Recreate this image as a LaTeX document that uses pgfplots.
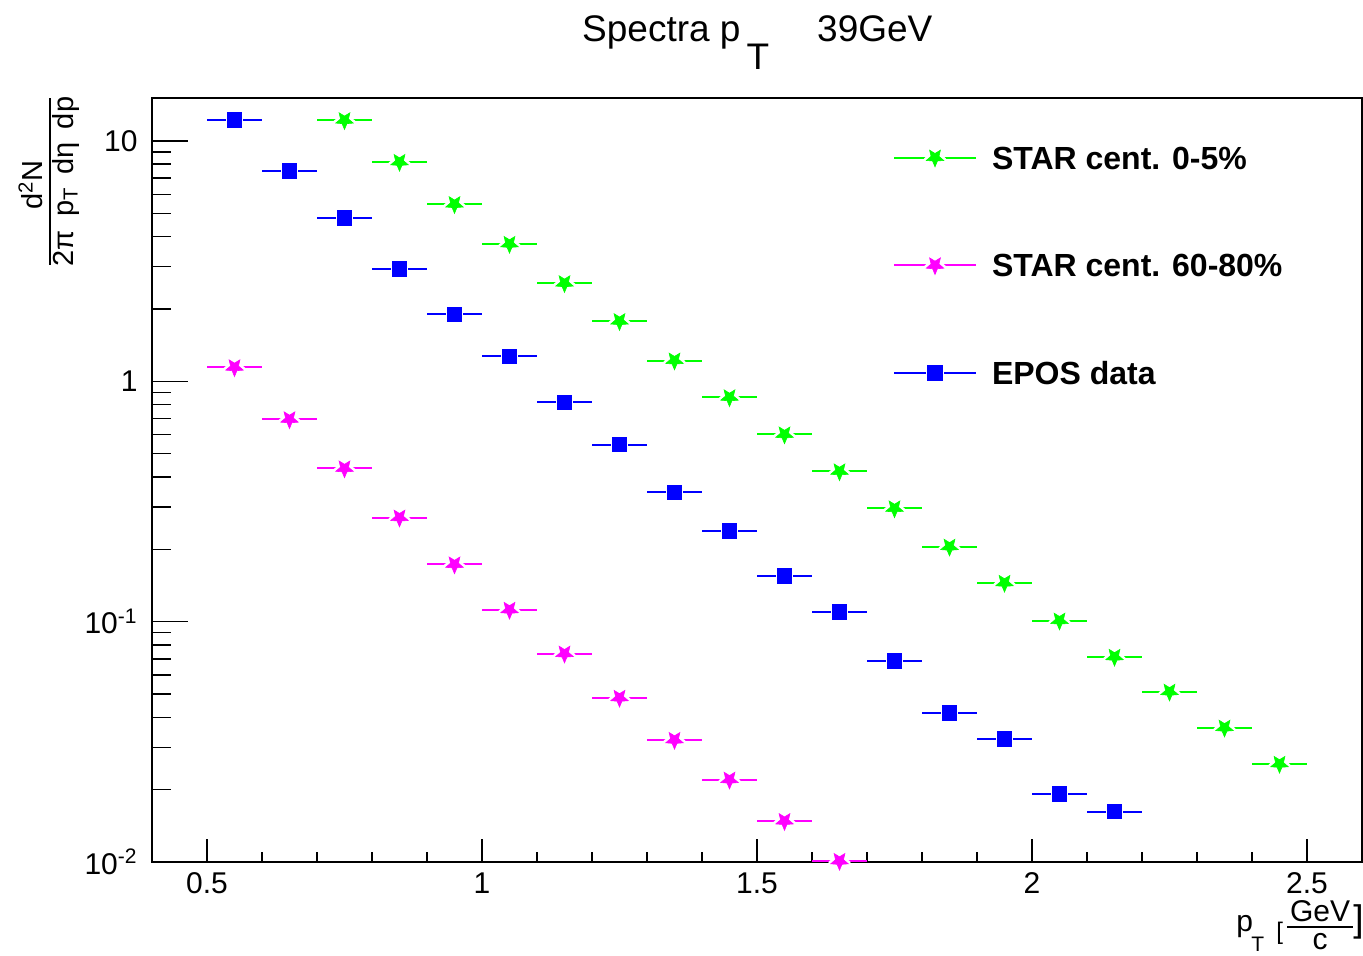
\documentclass[border=0pt]{standalone}
\usepackage{pgfplots}
\pgfplotsset{compat=1.18}
\usepackage{fontspec}
\setmainfont{Liberation Sans}
\definecolor{rgreen}{rgb}{0,1,0}
\definecolor{rmag}{rgb}{1,0,1}
\definecolor{rblue}{rgb}{0,0,1}

\newcommand{\starpath}{%
  \pgfpathmoveto{\pgfpointpolar{-90}{\pgfplotmarksize}}%
  \pgfpathlineto{\pgfpointpolar{-54}{0.45\pgfplotmarksize}}%
  \pgfpathlineto{\pgfpointpolar{-18}{\pgfplotmarksize}}%
  \pgfpathlineto{\pgfpointpolar{18}{0.45\pgfplotmarksize}}%
  \pgfpathlineto{\pgfpointpolar{54}{\pgfplotmarksize}}%
  \pgfpathlineto{\pgfpointpolar{90}{0.45\pgfplotmarksize}}%
  \pgfpathlineto{\pgfpointpolar{126}{\pgfplotmarksize}}%
  \pgfpathlineto{\pgfpointpolar{162}{0.45\pgfplotmarksize}}%
  \pgfpathlineto{\pgfpointpolar{198}{\pgfplotmarksize}}%
  \pgfpathlineto{\pgfpointpolar{234}{0.45\pgfplotmarksize}}%
  \pgfpathclose}
\pgfdeclareplotmark{istarG}{%
  \pgfsetlinewidth{3pt}\pgfsetroundjoin
  \pgfsetstrokecolor{white}\pgfsetfillcolor{white}%
  \starpath\pgfusepath{stroke}%
  \pgfsetlinewidth{0.3pt}\pgfsetmiterjoin
  \pgfsetstrokecolor{rgreen}\pgfsetfillcolor{rgreen}%
  \starpath\pgfusepath{fill,stroke}}
\pgfdeclareplotmark{istarM}{%
  \pgfsetlinewidth{3pt}\pgfsetroundjoin
  \pgfsetstrokecolor{white}\pgfsetfillcolor{white}%
  \starpath\pgfusepath{stroke}%
  \pgfsetlinewidth{0.3pt}\pgfsetmiterjoin
  \pgfsetstrokecolor{rmag}\pgfsetfillcolor{rmag}%
  \starpath\pgfusepath{fill,stroke}}
\pgfdeclareplotmark{sqB}{%
  \pgfsetlinewidth{1pt}%
  \pgfsetstrokecolor{white}%
  \pgfpathrectangle{\pgfpoint{-\pgfplotmarksize}{-\pgfplotmarksize}}{\pgfpoint{2\pgfplotmarksize}{2\pgfplotmarksize}}%
  \pgfusepath{stroke}%
  \pgfsetfillcolor{rblue}%
  \pgfpathrectangle{\pgfpoint{-\pgfplotmarksize}{-\pgfplotmarksize}}{\pgfpoint{2\pgfplotmarksize}{2\pgfplotmarksize}}%
  \pgfusepath{fill}}

\newcommand{\tickfont}{\fontsize{15}{18}\selectfont}
\newcommand{\legfont}{\fontsize{16}{19}\selectfont\bfseries}

\begin{document}
\begin{tikzpicture}
\useasboundingbox (-76pt,-47pt) rectangle (605.5pt,431pt);
\begin{axis}[
  at={(0,0)}, anchor=south west,
  scale only axis, width=605pt, height=382pt,
  xmin=0.4, xmax=2.6,
  ymode=log, ymin=0.01, ymax=15.1,
  axis line style={line width=0.8pt, black},
  tick align=inside, tick pos=left,
  tick style={black, line width=0.8pt},
  xtick style={/pgfplots/major tick length=11.5pt, /pgfplots/minor tick length=5pt},
  ytick style={/pgfplots/major tick length=18pt, /pgfplots/minor tick length=9.5pt},
  xtick={0.5,1,1.5,2,2.5},
  xticklabels={0.5,1,1.5,2,2.5},
  minor x tick num=4,
  ytick={0.01,0.1,1,10},
  yticklabels={10\textsuperscript{-2},10\textsuperscript{-1},1,10},
  xticklabel style={font=\tickfont, anchor=north, inner sep=0pt, yshift=-5pt},
  yticklabel style={font=\tickfont, anchor=east, inner sep=0pt, xshift=-7pt},
  legend cell align=left,
  legend style={draw=none, fill=none, inner sep=0pt, outer sep=0pt,
    at={(0.6124,0.937)}, anchor=north west,
    nodes={inner sep=0pt, text height=11.5pt, text depth=0pt, font=\legfont},
    row sep=42pt, column sep=7.5pt},
  legend image code/.code={%
    \draw[#1, mark=none, line width=1pt] (0pt,0pt) -- (41pt,0pt);
    \draw[#1] plot coordinates {(20.5pt,0pt)};
  },
]
% STAR 0-5%
\addplot[only marks, color=rgreen, mark=istarG, mark size=4.6pt,
  error bars/.cd, x dir=both, x fixed=0.05, error mark=none,
  error bar style={line width=1pt, rgreen}]
coordinates {
(0.75,12.2) (0.85,8.18) (0.95,5.46) (1.05,3.73) (1.15,2.56) (1.25,1.78)
(1.35,1.22) (1.45,0.858) (1.55,0.601) (1.65,0.422) (1.75,0.296) (1.85,0.205)
(1.95,0.145) (2.05,0.101) (2.15,0.0714) (2.25,0.0511) (2.35,0.0362) (2.45,0.0256)
};
\addlegendentry{STAR cent. 0-5\%}
% STAR 60-80%
\addplot[only marks, color=rmag, mark=istarM, mark size=4.6pt,
  error bars/.cd, x dir=both, x fixed=0.05, error mark=none,
  error bar style={line width=1pt, rmag}]
coordinates {
(0.55,1.144) (0.65,0.695) (0.75,0.434) (0.85,0.271) (0.95,0.173) (1.05,0.112)
(1.15,0.0736) (1.25,0.0482) (1.35,0.0322) (1.45,0.0220) (1.55,0.0148) (1.65,0.0101)
};
\addlegendentry{STAR cent. 60-80\%}
% EPOS
\addplot[only marks, color=rblue, mark=sqB, mark size=3.9pt,
  error bars/.cd, x dir=both, x fixed=0.05, error mark=none,
  error bar style={line width=1pt, rblue}]
coordinates {
(0.55,12.2) (0.65,7.5) (0.75,4.78) (0.85,2.93) (0.95,1.90) (1.05,1.27)
(1.15,0.818) (1.25,0.546) (1.35,0.345) (1.45,0.239) (1.55,0.155) (1.65,0.110)
(1.75,0.0688) (1.85,0.0418) (1.95,0.0325) (2.05,0.0192) (2.15,0.0162)
};
\addlegendentry{EPOS data}
\end{axis}
% title
\node[anchor=base west, inner sep=0pt, font=\fontsize{18.5}{22}\selectfont]
  at (214.9pt,410.2pt) {Spectra p\hspace{3pt}\raisebox{-14pt}{T}\hspace{24pt}39GeV};
% y label
\draw[line width=1pt] (-51pt,298.5pt) -- (-51pt,382pt);
\node[rotate=90, anchor=base, inner sep=0pt, font=\fontsize{14.5}{17}\selectfont]
  at (-54.5pt,338.5pt) {d\textsuperscript{2}N};
\node[rotate=90, anchor=north, inner sep=0pt, font=\fontsize{14.5}{17}\selectfont]
  at (-50pt,340.25pt) {2π\hspace{0.45em}p\textsubscript{T}\hspace{0.45em}dη\hspace{0.45em}dp};
% x label
\begin{scope}[yshift=1.5pt]
\node[anchor=base west, inner sep=0pt, font=\fontsize{15}{18}\selectfont] at (542pt,-36.5pt) {p};
\node[anchor=base west, inner sep=0pt, font=\fontsize{10.5}{12}\selectfont] at (549.5pt,-46.5pt) {T};
\node[anchor=base west, inner sep=0pt, font=\fontsize{12}{14}\selectfont] at (562pt,-40.5pt) {[};
\node[anchor=base, inner sep=0pt, font=\fontsize{15}{18}\selectfont] at (584pt,-31.5pt) {GeV};
\draw[line width=1pt] (567.5pt,-34pt) -- (600.5pt,-34pt);
\node[anchor=north, inner sep=0pt, font=\fontsize{15}{18}\selectfont] at (584pt,-37pt) {c};
\node[anchor=base west, inner sep=0pt, font=\fontsize{18.5}{22}\selectfont] at (600.5pt,-36.5pt) {]};
\end{scope}
\end{tikzpicture}
\end{document}
